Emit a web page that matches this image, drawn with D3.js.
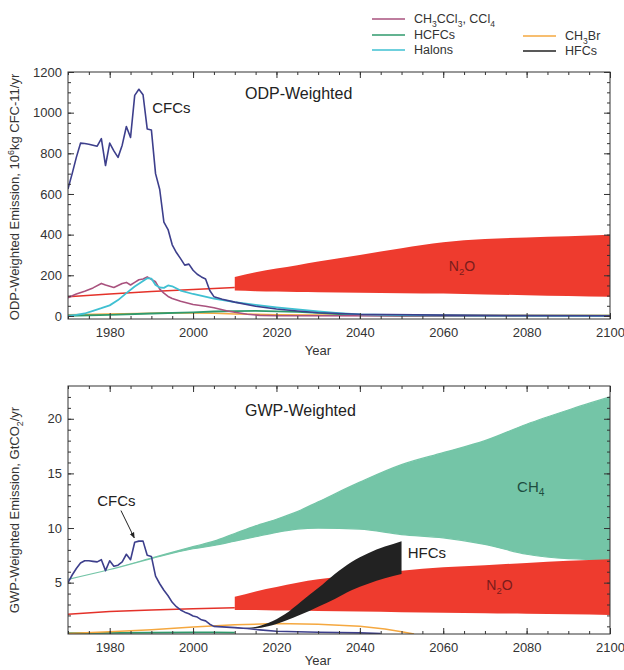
<!DOCTYPE html>
<html>
<head>
<meta charset="utf-8">
<script src="https://cdn.jsdelivr.net/npm/d3@7"></script>
<style>
body { margin: 0; background: #fff; }
svg { font-family: "Liberation Sans", Arial, Helvetica, sans-serif; }
.axis path { display: none; }
.axis line { stroke: #333; }
.axis text { font-size: 13px; fill: #333; font-family: "Liberation Sans", Arial, sans-serif; }
</style>
</head>
<body>
<script>
// ---- top panel: ODP-weighted emissions, [year, value] ----
const cfcOdp = [[1970,625],[1971,700],[1972,780],[1973,850],[1974,848],[1975,845],[1976,840],[1977,835],[1978,872],[1979,740],[1980,850],[1981,812],[1982,780],[1983,840],[1984,932],[1985,878],[1986,1085],[1987,1115],[1988,1088],[1989,920],[1990,915],[1991,700],[1992,622],[1993,462],[1994,425],[1995,350],[1996,312],[1997,282],[1998,250],[1999,255],[2000,225],[2001,205],[2002,192],[2003,182],[2004,125],[2005,95],[2007,82],[2010,68],[2015,48],[2020,34],[2025,24],[2030,16],[2040,8],[2060,4],[2080,2],[2100,1]];
const halonOdp = [[1970,2],[1972,5],[1974,12],[1976,25],[1978,38],[1980,52],[1982,78],[1984,112],[1986,145],[1988,172],[1989,186],[1990,184],[1991,152],[1992,140],[1993,138],[1994,150],[1995,146],[1997,125],[2000,108],[2005,85],[2010,68],[2015,54],[2020,42],[2025,32],[2030,22],[2035,14],[2040,8],[2050,4],[2070,2],[2100,1]];
const ch3ccl3Odp = [[1970,90],[1972,108],[1974,122],[1976,138],[1978,160],[1979,152],[1980,146],[1981,140],[1982,150],[1983,160],[1984,165],[1985,152],[1986,165],[1987,178],[1988,182],[1989,192],[1990,180],[1991,168],[1992,132],[1993,112],[1994,96],[1995,86],[1997,72],[2000,56],[2003,48],[2005,40],[2008,26],[2010,18],[2013,8],[2016,3],[2020,1],[2100,0]];
const hcfcOdp = [[1970,1],[1980,5],[1990,12],[2000,18],[2005,22],[2010,24],[2015,25],[2020,23],[2025,20],[2030,15],[2035,9],[2040,4],[2050,1],[2100,0]];
const ch3brOdp = [[1970,6],[1980,9],[1990,13],[1995,16],[2000,15],[2005,13],[2010,10],[2015,8],[2020,6],[2030,5],[2050,4],[2100,4]];
const n2oOdpHist = [[1970,95],[1980,108],[1990,120],[2000,130],[2010,140]];
// [year, low, high]
const n2oOdpBand = [[2010,125,192],[2015,122,215],[2020,120,233],[2025,118,250],[2030,117,268],[2040,114,300],[2050,112,333],[2060,110,362],[2070,106,378],[2080,102,386],[2090,98,392],[2100,94,400]];

// ---- bottom panel: GWP-weighted emissions (GtCO2/yr) ----
const cfcGwp = [[1970,5.0],[1971,5.7],[1972,6.3],[1973,6.8],[1974,7.0],[1975,7.0],[1976,6.95],[1977,6.9],[1978,7.1],[1979,6.1],[1980,7.0],[1981,6.5],[1982,6.6],[1983,6.9],[1984,7.6],[1985,7.1],[1986,8.7],[1987,8.8],[1988,8.8],[1989,7.5],[1990,7.4],[1991,5.6],[1992,4.9],[1993,4.3],[1994,3.8],[1995,3.2],[1996,2.8],[1997,2.5],[1998,2.3],[1999,2.15],[2000,1.95],[2001,1.85],[2002,1.6],[2003,1.5],[2004,1.2],[2005,1.0],[2007,0.95],[2010,0.88],[2013,0.8],[2016,0.68],[2020,0.55],[2030,0.46],[2040,0.4],[2045,0.35]];
const n2oGwpHist = [[1970,2.1],[1980,2.35],[1990,2.5],[2000,2.6],[2010,2.7]];
const n2oGwpBand = [[2010,2.5,3.7],[2015,2.5,4.2],[2020,2.45,4.6],[2025,2.45,5.0],[2030,2.4,5.3],[2040,2.35,5.75],[2050,2.3,6.1],[2060,2.25,6.4],[2070,2.2,6.6],[2080,2.15,6.8],[2090,2.1,7.0],[2100,2.05,7.15]];
const ch4GwpBand = [[1970,5.3,5.3],[1980,6.2,6.2],[1990,7.2,7.25],[2000,8.1,8.3],[2005,8.4,8.8],[2010,8.8,9.5],[2015,9.2,10.2],[2020,9.6,10.8],[2025,9.9,11.5],[2030,10.0,12.4],[2040,9.9,14.2],[2050,9.4,15.8],[2060,9.1,16.9],[2070,8.5,18.0],[2080,7.6,19.5],[2090,7.2,20.8],[2100,7.1,22.0]];
const hfcGwpBand = [[2010,0.85,0.85],[2014,0.8,0.9],[2018,1.0,1.3],[2022,1.5,2.1],[2026,2.1,3.3],[2030,2.8,4.5],[2034,3.5,5.8],[2038,4.3,6.9],[2042,4.9,7.7],[2046,5.4,8.3],[2050,5.8,8.8]];
const ch3brGwp = [[1970,0.35],[1980,0.5],[1990,0.7],[2000,0.95],[2010,1.15],[2020,1.25],[2030,1.2],[2040,1.0],[2046,0.75],[2050,0.5],[2053,0.3]];
const hcfcGwp = [[1970,0.38],[1980,0.4],[1990,0.42],[2000,0.45],[2005,0.45],[2010,0.42]];

// ticks
const xMajor = [1980, 2000, 2020, 2040, 2060, 2080, 2100];
const odpTicks = [0, 200, 400, 600, 800, 1000, 1200];
const gwpTicks = [5, 10, 15, 20];

const col = {
  cfc: "#3d3f8c", ch3ccl3: "#a9527e", hcfc: "#2f9a6c", halon: "#3fc0d2",
  ch3br: "#f5a840", hfc: "#222", n2o: "#ee3b2e", n2oLine: "#e4322a", ch4: "#74c5a7"
};

const W = 624, H = 670, left = 68, right = 610;
const svg = d3.select("body").append("svg").attr("width", W).attr("height", H);

// text with _x subscripts and ^x superscripts
function rich(t, str, fs) {
  const segs = [];
  for (let i = 0; i < str.length; i++) {
    const c = str[i];
    if ((c === "_" || c === "^") && i + 1 < str.length) { segs.push({s: str[i + 1], m: c}); i++; }
    else if (segs.length && segs[segs.length - 1].m === "") segs[segs.length - 1].s += c;
    else segs.push({s: c, m: ""});
  }
  let cur = 0;
  segs.forEach(d => {
    const off = d.m === "_" ? fs * 0.28 : d.m === "^" ? -fs * 0.4 : 0;
    t.append("tspan").attr("dy", off - cur).attr("font-size", d.m ? fs * 0.68 : fs).text(d.s);
    cur = off;
  });
  return t;
}

function panel(y0, y1, yDomain, id) {
  const x = d3.scaleLinear().domain([1970, 2100]).range([left, right]);
  const y = d3.scaleLinear().domain(yDomain).range([y1, y0]);
  const g = svg.append("g");
  g.append("clipPath").attr("id", id).append("rect")
    .attr("x", left).attr("y", y0).attr("width", right - left).attr("height", y1 - y0);
  const plot = g.append("g").attr("clip-path", "url(#" + id + ")");
  return {x, y, g, plot, y0, y1};
}

function band(p, data, fill) {
  const area = d3.area().x(d => p.x(d[0])).y0(d => p.y(d[1])).y1(d => p.y(d[2])).curve(d3.curveMonotoneX);
  return p.plot.append("path").datum(data).attr("d", area).attr("fill", fill);
}
function line(p, data, color, w) {
  const ln = d3.line().x(d => p.x(d[0])).y(d => p.y(d[1]));
  return p.plot.append("path").datum(data).attr("d", ln).attr("fill", "none")
    .attr("stroke", color).attr("stroke-width", w || 1.5).attr("stroke-linejoin", "round");
}

function axes(p, yMajor, yMinor, yearOffset) {
  const xMinor = d3.range(1970, 2101, 5);
  const add = (axis, tr) => p.g.append("g").attr("class", "axis").attr("transform", tr).call(axis);
  add(d3.axisBottom(p.x).tickValues(xMinor).tickSize(-3).tickFormat(""), `translate(0,${p.y1})`);
  add(d3.axisBottom(p.x).tickValues(xMajor).tickSize(-6).tickPadding(9).tickFormat(d3.format("d")), `translate(0,${p.y1})`);
  add(d3.axisTop(p.x).tickValues(xMinor).tickSize(-3).tickFormat(""), `translate(0,${p.y0})`);
  add(d3.axisTop(p.x).tickValues(xMajor).tickSize(-6).tickFormat(""), `translate(0,${p.y0})`);
  add(d3.axisLeft(p.y).tickValues(yMinor).tickSize(-3).tickFormat(""), `translate(${left},0)`);
  add(d3.axisLeft(p.y).tickValues(yMajor).tickSize(-6).tickPadding(6).tickFormat(d3.format("d")), `translate(${left},0)`);
  add(d3.axisRight(p.y).tickValues(yMinor).tickSize(-3).tickFormat(""), `translate(${right},0)`);
  add(d3.axisRight(p.y).tickValues(yMajor).tickSize(-6).tickFormat(""), `translate(${right},0)`);
  p.g.append("rect").attr("x", left).attr("y", p.y0).attr("width", right - left)
    .attr("height", p.y1 - p.y0).attr("fill", "none").attr("stroke", "#333").attr("stroke-width", 1);
  p.g.append("text").attr("x", 318).attr("y", p.y1 + yearOffset).attr("text-anchor", "middle")
    .attr("font-size", 13).attr("fill", "#333").text("Year");
}

// ---------- top panel ----------
const pTop = panel(72, 319, [-15, 1200], "clipTop");
band(pTop, n2oOdpBand, col.n2o);
line(pTop, n2oOdpHist, col.n2oLine, 1.5);
line(pTop, ch3brOdp, col.ch3br, 1.5);
line(pTop, hcfcOdp, col.hcfc, 1.8);
line(pTop, ch3ccl3Odp, col.ch3ccl3, 1.6);
line(pTop, halonOdp, col.halon, 1.8);
line(pTop, cfcOdp, col.cfc, 1.6);
axes(pTop, odpTicks, d3.range(0, 1201, 50), 36);

pTop.g.append("text").attr("x", pTop.x(1990.2)).attr("y", pTop.y(1000)).attr("font-size", 15).attr("fill", "#222").text("CFCs");
pTop.g.append("text").attr("x", 245).attr("y", 99).attr("font-size", 16).attr("fill", "#222").text("ODP-Weighted");
rich(pTop.g.append("text").attr("x", pTop.x(2064.5)).attr("y", pTop.y(220)).attr("text-anchor", "middle").attr("fill", "#7a1c1c"), "N_2O", 14);
rich(svg.append("text").attr("transform", "translate(19,197) rotate(-90)").attr("text-anchor", "middle").attr("fill", "#333"),
  "ODP-Weighted Emission, 10^6kg CFC-11/yr", 13);

// ---------- bottom panel ----------
const pBot = panel(386, 634, [0.3, 23], "clipBot");
band(pBot, ch4GwpBand, col.ch4).attr("stroke", col.ch4).attr("stroke-width", 1.2);
band(pBot, n2oGwpBand, col.n2o);
line(pBot, n2oGwpHist, col.n2oLine, 1.5);
line(pBot, hcfcGwp, col.hcfc, 1.8);
line(pBot, ch3brGwp, col.ch3br, 1.5);
band(pBot, hfcGwpBand, col.hfc);
line(pBot, cfcGwp, col.cfc, 1.6);
axes(pBot, gwpTicks, d3.range(1, 23, 1), 31);

pBot.g.append("text").attr("x", 245).attr("y", 416).attr("font-size", 16).attr("fill", "#222").text("GWP-Weighted");
pBot.g.append("text").attr("x", pBot.x(1977)).attr("y", pBot.y(12)).attr("font-size", 15).attr("fill", "#222").text("CFCs");
svg.append("defs").append("marker").attr("id", "arr").attr("viewBox", "0 0 10 10").attr("refX", 9).attr("refY", 5)
  .attr("markerWidth", 6).attr("markerHeight", 6).attr("orient", "auto")
  .append("path").attr("d", "M0,1 L10,5 L0,9 Z").attr("fill", "#222");
pBot.g.append("line").attr("x1", pBot.x(1982.7)).attr("y1", pBot.y(11.6)).attr("x2", pBot.x(1985.9)).attr("y2", pBot.y(9.1))
  .attr("stroke", "#222").attr("stroke-width", 1).attr("marker-end", "url(#arr)");
pBot.g.append("text").attr("x", pBot.x(2051.5)).attr("y", pBot.y(7.3)).attr("font-size", 15).attr("fill", "#222").text("HFCs");
rich(pBot.g.append("text").attr("x", pBot.x(2081)).attr("y", pBot.y(13.3)).attr("text-anchor", "middle").attr("fill", "#1d4d40"), "CH_4", 15);
rich(pBot.g.append("text").attr("x", pBot.x(2073.5)).attr("y", pBot.y(4.3)).attr("text-anchor", "middle").attr("fill", "#7a1c1c"), "N_2O", 14);
rich(svg.append("text").attr("transform", "translate(19,510) rotate(-90)").attr("text-anchor", "middle").attr("fill", "#333"),
  "GWP-Weighted Emission, GtCO_2/yr", 13);

// ---------- legend ----------
const legend = [
  {name: "CH_3CCl_3, CCl_4", color: col.ch3ccl3, x: 372, y: 19},
  {name: "HCFCs", color: col.hcfc, x: 372, y: 35},
  {name: "Halons", color: col.halon, x: 372, y: 50},
  {name: "CH_3Br", color: col.ch3br, x: 523, y: 36},
  {name: "HFCs", color: col.hfc, x: 523, y: 51}
];
legend.forEach(d => {
  svg.append("line").attr("x1", d.x).attr("x2", d.x + 33).attr("y1", d.y).attr("y2", d.y)
    .attr("stroke", d.color).attr("stroke-width", 1.6);
  rich(svg.append("text").attr("x", d.x + 42).attr("y", d.y + 4.3).attr("fill", "#333"), d.name, 12.5);
});
</script>
</body>
</html>
